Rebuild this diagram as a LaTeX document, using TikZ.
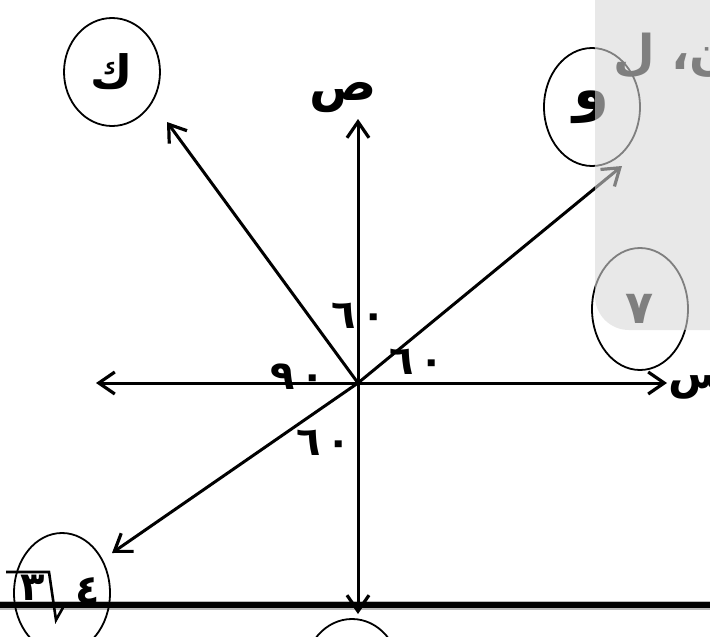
\documentclass[tikz,border=0pt]{standalone}
\usepackage{fontspec}
\newfontfamily\arabicfont[Script=Arabic]{DejaVu Sans}
\TeXXeTstate=1
\usetikzlibrary{arrows.meta,shapes.geometric}
\definecolor{ovl}{RGB}{216,216,216}
\begin{document}
\begin{tikzpicture}[x=1pt,y=-1pt,
  axis/.style={line width=3pt,-{Straight Barb[length=16pt,width=22pt,line width=3.2pt]}},
  ring/.style={draw,ellipse,line width=1.8pt,inner sep=0pt,minimum width=96pt,minimum height=118pt,
    font=\arabicfont\bfseries\fontsize{46}{50}\selectfont},
  lbl/.style={font=\arabicfont\bfseries\fontsize{44}{48}\selectfont,inner sep=0pt},
  ang/.style={font=\arabicfont\bfseries\fontsize{40}{44}\selectfont,inner sep=0pt}]
\useasboundingbox (0,0) rectangle (710,637);
\fill[white] (0,0) rectangle (710,637);
% thick rule
\draw[line width=9pt,gray!55] (0,605) -- (710,605);
\draw[line width=6pt] (0,605) -- (710,605);
% origin and arrow tips
\coordinate (O) at (358,383);
\coordinate (tipU) at (358,119);
\coordinate (tipD) at (358,614);
\coordinate (tipL) at (96,383);
\coordinate (tipR) at (667,383);
\coordinate (tipUL) at (167,122);
\coordinate (tipUR) at (622,166);
\coordinate (tipDL) at (112,553);
\draw[axis] (O) -- (tipU);
\draw[axis] (O) -- (tipD);
\draw[axis] (O) -- (tipL);
\draw[axis] (O) -- (tipR);
\draw[axis] (O) -- (tipUL);
\draw[axis] (O) -- (tipUR);
\draw[axis] (O) -- (tipDL);
% axis labels
\node[lbl,font=\arabicfont\bfseries\fontsize{50}{54}\selectfont] (sad) at (343,98) {ص};
\node[lbl,anchor=west] (sin) at (668,386) {س};
% angle labels
\node[ang] (a1) at (359,316) {٦\hspace{6pt}٠};
\node[ang] (a2) at (298,377) {٩\hspace{6pt}٠};
\node[ang] (a3) at (417,362) {٦\hspace{6pt}٠};
\node[ang] (a4) at (324,443) {٦\hspace{6pt}٠};
% circles
\node[ring,minimum height=108pt] (ck) at (112,72) {\raisebox{-3pt}{ك}};
\node[ring,font=\arabicfont\bfseries\fontsize{58}{62}\selectfont] (cw) at (592,107) {\raisebox{-7pt}{و}};
\node[ring,minimum height=122pt] (c7) at (640,309) {٧};
\node[ring,minimum height=120pt] (cr) at (62,593) {};
\node[ring,minimum height=110pt] (cb) at (352,674) {};
% root expression
\node[lbl,font=\arabicfont\bfseries\fontsize{40}{44}\selectfont] (three) at (33,588) {٣};
\node[lbl,font=\arabicfont\bfseries\fontsize{40}{44}\selectfont] (four) at (88,591) {٤};
\draw[line width=2.6pt,line join=miter] (6,572) -- (49,572) -- (56,620) -- (65,604);
% top-right text
\node[font=\arabicfont\bfseries\fontsize{48}{52}\selectfont,anchor=west,inner sep=0pt] (nl) at (613,56) {\beginR ن، ل\endR};
% grey overlay
\fill[ovl,fill opacity=0.59,rounded corners=34pt] (595,-50) rectangle (760,330);
\end{tikzpicture}
\end{document}
